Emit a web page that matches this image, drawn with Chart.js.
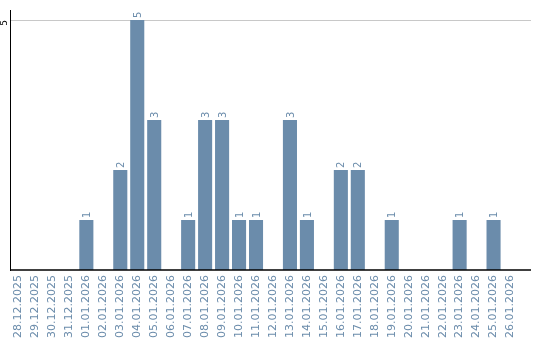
<!DOCTYPE html>
<html>
<head>
<meta charset="utf-8">
<script src="https://cdn.jsdelivr.net/npm/chart.js@4/dist/chart.umd.min.js"></script>
<style>
html,body{margin:0;padding:0;background:#fff;}
#wrap{width:540px;height:340px;position:relative;}
</style>
</head>
<body>
<div id="wrap"><canvas id="c" width="540" height="340"></canvas></div>
<script>
const categories = ["28.12.2025","29.12.2025","30.12.2025","31.12.2025","01.01.2026","02.01.2026","03.01.2026","04.01.2026","05.01.2026","06.01.2026","07.01.2026","08.01.2026","09.01.2026","10.01.2026","11.01.2026","12.01.2026","13.01.2026","14.01.2026","15.01.2026","16.01.2026","17.01.2026","18.01.2026","19.01.2026","20.01.2026","21.01.2026","22.01.2026","23.01.2026","24.01.2026","25.01.2026","26.01.2026"];
const counts = [0,0,0,0,1,0,2,5,3,0,1,3,3,1,1,0,3,1,0,2,2,0,1,0,0,0,1,0,1,0];
const yTicks = [5];

const BAR = '#6b8cab';
const TXT = '#6b8cab';
const EXT = 12;

const extras = {
  id: 'extras',
  afterDatasetsDraw(chart) {
    const {ctx, chartArea: a, scales: {x, y}} = chart;
    ctx.save();
    ctx.lineWidth = 1;
    ctx.strokeStyle = '#c8c8c8';
    yTicks.forEach(v => {
      const py = Math.round(y.getPixelForValue(v)) + 0.5;
      ctx.beginPath(); ctx.moveTo(a.right, py); ctx.lineTo(a.right + EXT, py); ctx.stroke();
    });
    ctx.strokeStyle = '#000';
    ctx.lineWidth = 1.5;
    const by = y.getPixelForValue(0);
    ctx.beginPath(); ctx.moveTo(a.left, by); ctx.lineTo(a.right + EXT, by); ctx.stroke();
    // y tick labels
    ctx.fillStyle = '#000';
    ctx.font = '9px "DejaVu Sans"';
    yTicks.forEach(v => {
      const py = y.getPixelForValue(v);
      ctx.save();
      ctx.translate(5, py + 3);
      ctx.rotate(-Math.PI / 2);
      ctx.textAlign = 'center';
      ctx.textBaseline = 'middle';
      ctx.fillText(String(v), 0, 0);
      ctx.restore();
    });
    // value labels
    ctx.fillStyle = TXT;
    ctx.font = '10px "DejaVu Sans"';
    const meta = chart.getDatasetMeta(0);
    meta.data.forEach((el, i) => {
      const v = counts[i];
      if (!v) return;
      ctx.save();
      ctx.translate(el.x + 1, el.y - 2);
      ctx.rotate(-Math.PI / 2);
      ctx.textAlign = 'left';
      ctx.textBaseline = 'middle';
      ctx.fillText(String(v), 0, 0);
      ctx.restore();
    });
    ctx.restore();
  }
};

new Chart(document.getElementById('c'), {
  type: 'bar',
  data: {
    labels: categories,
    datasets: [{
      data: counts,
      backgroundColor: BAR,
      borderWidth: 0,
      barPercentage: 0.83,
      categoryPercentage: 1.0
    }]
  },
  options: {
    responsive: false,
    animation: false,
    devicePixelRatio: 1,
    layout: { padding: { top: 10, right: 21, left: 0, bottom: 0 } },
    plugins: { legend: { display: false }, tooltip: { enabled: false } },
    scales: {
      x: {
        offset: true,
        grid: { display: false, drawTicks: false },
        border: { display: false },
        ticks: {
          autoSkip: false,
          minRotation: 90,
          maxRotation: 90,
          padding: 5,
          color: TXT,
          font: { family: 'DejaVu Sans', size: 11 }
        },
        afterFit: s => { s.height = 70; }
      },
      y: {
        min: 0,
        max: 5.2,
        afterBuildTicks: s => { s.ticks = yTicks.map(v => ({ value: v })); },
        grid: { color: '#c8c8c8', drawTicks: false, lineWidth: 1 },
        border: { display: true, color: '#000', width: 1 },
        ticks: { display: false },
        afterFit: s => { s.width = 10; }
      }
    }
  },
  plugins: [extras]
});
</script>
</body>
</html>
